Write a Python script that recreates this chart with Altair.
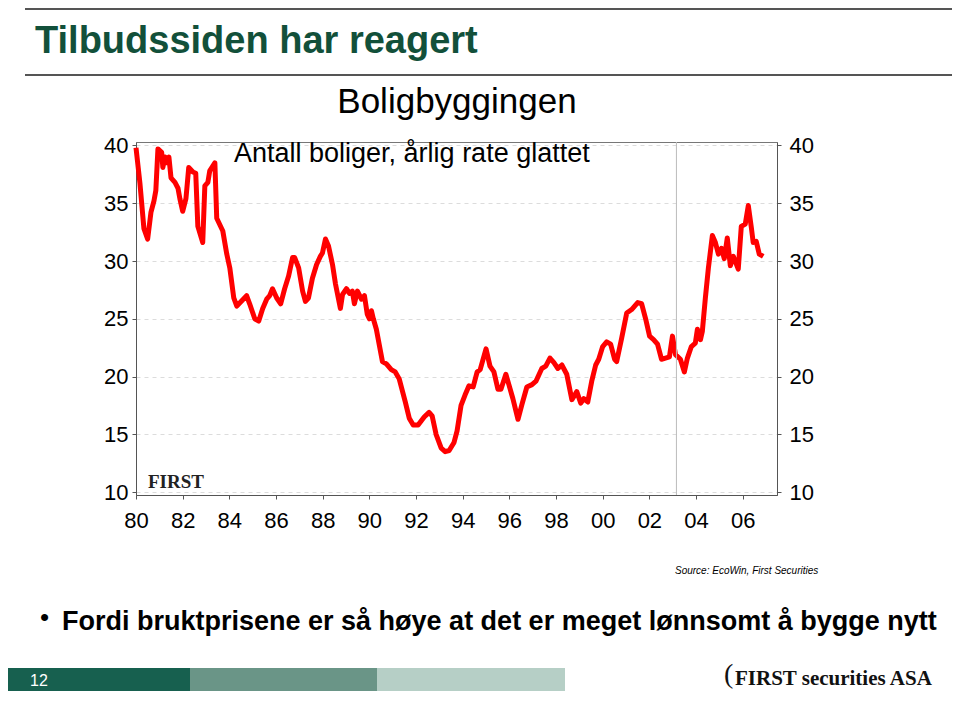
import altair as alt
import pandas as pd

# ---- data ----
years = [1980.00, 1980.17, 1980.34, 1980.50, 1980.64, 1980.77, 1980.85, 1980.94, 1981.10, 1981.15,
         1981.24, 1981.32, 1981.41, 1981.50, 1981.67, 1981.80, 1981.88, 1982.00, 1982.14, 1982.26,
         1982.44, 1982.56, 1982.65, 1982.86, 1982.95, 1983.08, 1983.16, 1983.38, 1983.46, 1983.72,
         1983.89, 1984.02, 1984.19, 1984.32, 1984.74, 1984.87, 1985.09, 1985.26, 1985.43, 1985.60,
         1985.73, 1985.85, 1986.03, 1986.20, 1986.37, 1986.54, 1986.71, 1986.80, 1986.97, 1987.14,
         1987.26, 1987.39, 1987.56, 1987.74, 1987.90, 1987.99, 1988.12, 1988.25, 1988.42, 1988.55,
         1988.76, 1988.85, 1989.02, 1989.15, 1989.27, 1989.36, 1989.49, 1989.66, 1989.79, 1989.91,
         1990.00, 1990.09, 1990.17, 1990.30, 1990.56, 1990.73, 1990.94, 1991.11, 1991.28, 1991.54,
         1991.71, 1991.88, 1992.09, 1992.35, 1992.56, 1992.69, 1992.86, 1993.08, 1993.25, 1993.42,
         1993.63, 1993.76, 1993.93, 1994.10, 1994.27, 1994.45, 1994.62, 1994.75, 1995.00, 1995.17,
         1995.34, 1995.51, 1995.64, 1995.85, 1995.98, 1996.15, 1996.37, 1996.54, 1996.75, 1996.97,
         1997.14, 1997.39, 1997.56, 1997.74, 1997.91, 1998.08, 1998.25, 1998.46, 1998.68, 1998.89,
         1999.06, 1999.19, 1999.36, 1999.53, 1999.70, 1999.83, 2000.00, 2000.17, 2000.34, 2000.51,
         2000.60, 2000.81, 2001.03, 2001.24, 2001.37, 2001.50, 2001.67, 2001.84, 2002.01, 2002.18,
         2002.35, 2002.52, 2002.69, 2002.86, 2002.99, 2003.12, 2003.33, 2003.50, 2003.63, 2003.80,
         2003.97, 2004.06, 2004.19, 2004.27, 2004.40, 2004.53, 2004.70, 2004.83, 2004.96, 2005.09,
         2005.21, 2005.34, 2005.47, 2005.60, 2005.81, 2005.94, 2006.11, 2006.24, 2006.37, 2006.45,
         2006.58, 2006.71, 2006.88]
boliger = [39.8, 36.7, 32.8, 31.9, 34.2, 35.2, 36.1, 39.7, 39.4, 38.1,
           39.0, 38.5, 39.0, 37.2, 36.8, 36.3, 35.4, 34.3, 35.4, 38.1,
           37.7, 37.6, 33.0, 31.6, 36.5, 36.8, 37.8, 38.5, 33.7, 32.6,
           30.6, 29.4, 26.8, 26.1, 27.0, 26.3, 25.0, 24.8, 25.9, 26.7,
           27.0, 27.6, 26.8, 26.3, 27.6, 28.7, 30.3, 30.3, 29.4, 27.4,
           26.5, 26.8, 28.5, 29.7, 30.4, 30.7, 31.9, 31.3, 29.7, 28.0,
           25.9, 27.1, 27.6, 27.2, 27.4, 26.3, 27.4, 26.7, 27.0, 25.4,
           25.0, 25.7, 25.0, 24.1, 21.3, 21.1, 20.6, 20.4, 19.8, 17.8,
           16.4, 15.8, 15.8, 16.5, 16.9, 16.6, 15.0, 13.8, 13.5, 13.6,
           14.3, 15.3, 17.5, 18.4, 19.2, 19.1, 20.4, 20.6, 22.4, 20.9,
           20.4, 18.9, 18.9, 20.2, 19.3, 18.1, 16.3, 17.6, 19.1, 19.3,
           19.6, 20.7, 20.9, 21.6, 21.2, 20.7, 21.0, 20.2, 18.0, 18.7,
           17.7, 18.1, 17.8, 19.6, 21.0, 21.5, 22.6, 23.0, 22.8, 21.5,
           21.3, 23.3, 25.5, 25.8, 26.1, 26.4, 26.3, 25.0, 23.5, 23.2,
           22.8, 21.5, 21.6, 21.7, 23.5, 21.9, 21.5, 20.4, 21.6, 22.6,
           22.9, 24.1, 23.2, 23.9, 26.8, 29.4, 32.2, 31.6, 30.6, 31.1,
           30.2, 32.0, 29.6, 30.4, 29.3, 33.0, 33.2, 34.8, 32.9, 31.6,
           31.7, 30.6, 30.4]
divider_year = [2003.16]
x_ticks = list(range(1980, 2007, 2))
y_ticks = [10, 15, 20, 25, 30, 35, 40]

title_text = "Tilbudssiden har reagert"
chart_title = "Boligbyggingen"
subtitle_text = "Antall boliger, årlig rate glattet"
first_text = "FIRST"
source_text = "Source: EcoWin, First Securities"
bullet_text = "Fordi bruktprisene er så høye at det er meget lønnsomt å bygge nytt"
page_no = "12"
logo_text = "FIRST securities ASA"

df = pd.DataFrame({"year": years, "value": boliger})
one = pd.DataFrame({"d": [0]})

FONT = "Liberation Sans"
W, H = 641, 353

xscale = alt.Scale(domain=[1980, 2007.47], nice=False, zero=False)
yscale = alt.Scale(domain=[9.75, 40.3], nice=False, zero=False)

x_axis = alt.Axis(values=x_ticks, grid=False, tickSize=4, labelPadding=11,
                  labelExpr="pad('' + (datum.value % 100), 2, '0', 'left')",
                  labelFontSize=22, labelFont=FONT, labelColor="#000",
                  domainColor="#555", tickColor="#555", labelFlush=False)
x_enc = alt.X("year:Q", scale=xscale, title=None, axis=x_axis)

line = alt.Chart(df).mark_line(color="#ff0000", strokeWidth=5, strokeJoin="round").encode(
    x=x_enc,
    y=alt.Y("value:Q", scale=yscale, title=None,
            axis=alt.Axis(values=y_ticks, orient="left", grid=True, gridDash=[4, 4],
                          gridColor="#dcdcdc", tickSize=4, labelPadding=4,
                          labelFontSize=22, labelFont=FONT, labelColor="#000",
                          domainColor="#555", tickColor="#555")),
)

right = alt.Chart(df).mark_line(opacity=0).encode(
    x=x_enc,
    y=alt.Y("value:Q", scale=yscale, title=None,
            axis=alt.Axis(values=y_ticks, orient="right", grid=False, tickSize=4, labelPadding=8,
                          labelFontSize=22, labelFont=FONT, labelColor="#000",
                          domainColor="#555", tickColor="#555")),
)

divider = alt.Chart(pd.DataFrame({"year": divider_year})).mark_rule(
    color="#bbbbbb", strokeWidth=1).encode(x=x_enc)


def txt(s, x, y, size, **kw):
    return alt.Chart(pd.DataFrame({"t": [s]})).mark_text(fontSize=size, **kw).encode(
        text="t:N", x=alt.value(x), y=alt.value(y))


def hrule(x1, x2, y, color, sw):
    return alt.Chart(one).mark_rule(color=color, strokeWidth=sw).encode(
        x=alt.value(x1), x2=alt.value(x2), y=alt.value(y))


def box(x1, x2, y1, y2, color):
    return alt.Chart(one).mark_rect(color=color).encode(
        x=alt.value(x1), x2=alt.value(x2), y=alt.value(y1), y2=alt.value(y2))


# plot origin is at page (136, 142)
deco = [
    hrule(-111, 816, -133, "#555555", 2),
    hrule(-111, 816, -67, "#555555", 2),
    txt(title_text, -101, -89, 38, font=FONT, fontWeight="bold", color="#12503a",
        align="left", baseline="alphabetic"),
    txt(chart_title, 321, -40, 35, font=FONT, color="#000", align="center", baseline="middle"),
    txt(subtitle_text, 98, 12, 27, font=FONT, color="#000", align="left", baseline="middle"),
    txt(first_text, 12, 340, 19, font="Liberation Serif", fontWeight="bold", color="#222",
        align="left", baseline="middle"),
    txt(source_text, 539, 429, 10, font=FONT, fontStyle="italic", color="#000",
        align="left", baseline="middle"),
    txt("•", -96, 476, 26, font=FONT, color="#000", align="left", baseline="middle"),
    txt(bullet_text, -74, 480, 27, font=FONT, fontWeight="bold", color="#000",
        align="left", baseline="middle"),
    box(-128, 54, 526, 550, "#17604f"),
    box(54, 241, 526, 550, "#6a9587"),
    box(241, 429, 526, 550, "#b6cfc6"),
    txt(page_no, -106, 539, 16, font=FONT, color="#ffffff", align="left", baseline="middle"),
    txt(logo_text, 599, 543, 21, font="Liberation Serif", fontWeight="bold", color="#111",
        align="left", baseline="alphabetic"),
    txt("(", 588, 541, 28, font="Liberation Serif", color="#111", align="left",
        baseline="alphabetic"),
]

chart = alt.layer(line, right, divider, *deco).resolve_scale(y="independent").properties(
    width=W, height=H,
    autosize=alt.AutoSizeParams(type="none"),
    padding={"left": 128, "top": 134, "right": 175, "bottom": 196},
).configure_view(stroke="#777777", strokeWidth=1)

chart.save("out.html", embed_options={"renderer": "svg", "actions": False})
